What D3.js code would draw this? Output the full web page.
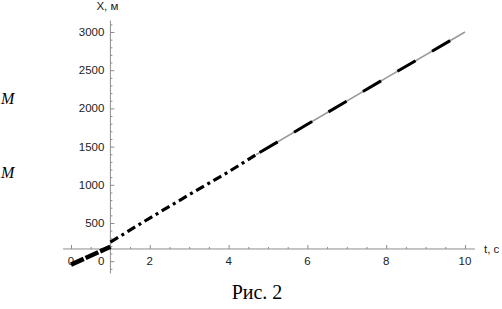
<!DOCTYPE html>
<html><head><meta charset="utf-8">
<script src="https://cdn.jsdelivr.net/npm/d3@7"></script>
<style>body{margin:0;background:#fff}svg{display:block}</style>
</head><body>
<script>
// Data
const tA = [0, 1];                 // thick black segment
const xA = [-45, 190];
const tB = [1, 2, 3, 4, 4.7];      // dash-dot segment
const xB = [250, 565, 870, 1170, 1395];
const tC = [4.7, 6, 8, 10];        // gray line with long black dashes
const xC = [1395, 1792, 2400, 3000];
const xTicks = [0, 2, 4, 6, 8, 10];
const yTicks = [0, 500, 1000, 1500, 2000, 2500, 3000];
const xMinor = d3.range(-0, 10.01, 0.5);
const yMinor = d3.range(-100, 3101, 100);

const W = 502, H = 309;
const svg = d3.select("body").append("svg").attr("width", W).attr("height", H);

const x = d3.scaleLinear().domain([0, 10]).range([71, 465]);
const y = d3.scaleLinear().domain([0, 3000]).range([261.2, 32]);
const axX0 = 1, axY0 = 160; // axes origin

const axisColor = "#8c8c8c";
const sans = "'Liberation Sans', Arial, sans-serif";

// x axis
const gx = svg.append("g").attr("transform", `translate(0,${y(axY0)})`);
gx.append("line").attr("x1", x(-0.2)).attr("x2", x(10.25)).attr("y1", 0).attr("y2", 0)
  .attr("stroke", axisColor).attr("stroke-width", 1);
gx.append("g").call(d3.axisTop(x).tickValues(xMinor.filter(v => !xTicks.includes(v))).tickSize(2).tickFormat(""))
  .call(g => g.select(".domain").remove())
  .selectAll("line").attr("stroke", axisColor);
gx.append("g").call(d3.axisTop(x).tickValues(xTicks).tickSize(4).tickFormat(""))
  .call(g => g.select(".domain").remove())
  .selectAll("line").attr("stroke", axisColor);
gx.selectAll("text.xl").data(xTicks).enter().append("text").attr("class", "xl")
  .attr("x", d => x(d)).attr("y", 16).attr("text-anchor", "middle")
  .attr("font-family", sans).attr("font-size", 11.5).attr("fill", "#222").text(d => d);

// y axis
const gy = svg.append("g").attr("transform", `translate(${x(axX0)},0)`);
gy.append("line").attr("x1", 0).attr("x2", 0).attr("y1", y(-160)).attr("y2", y(3150))
  .attr("stroke", axisColor).attr("stroke-width", 1);
gy.append("g").call(d3.axisRight(y).tickValues(yMinor.filter(v => !yTicks.includes(v))).tickSize(2).tickFormat(""))
  .call(g => g.select(".domain").remove())
  .selectAll("line").attr("stroke", axisColor);
gy.append("g").call(d3.axisRight(y).tickValues(yTicks).tickSize(4).tickFormat(""))
  .call(g => g.select(".domain").remove())
  .selectAll("line").attr("stroke", axisColor);
gy.selectAll("text.yl").data(yTicks).enter().append("text").attr("class", "yl")
  .attr("x", -6).attr("y", d => y(d) + 4).attr("text-anchor", "end")
  .attr("font-family", sans).attr("font-size", 11.5).attr("fill", "#222").text(d => d);

// axis titles
svg.append("text").attr("x", x(axX0) - 14).attr("y", 10).attr("font-family", sans)
  .attr("font-size", 11.5).attr("fill", "#222").text("X, м");
svg.append("text").attr("x", 484).attr("y", y(axY0) + 4).attr("font-family", sans)
  .attr("font-size", 11.5).attr("fill", "#222").text("t, c");

const line = d3.line().x(d => x(d[0])).y(d => y(d[1]));
const pts = (t, v) => t.map((d, i) => [d, v[i]]);

// gray underlying line
svg.append("path").datum(pts(tC, xC)).attr("d", line).attr("fill", "none")
  .attr("stroke", "#9a9a9a").attr("stroke-width", 1.6);
// black long dashes
svg.append("path").datum(pts(tC, xC)).attr("d", line).attr("fill", "none")
  .attr("stroke", "#000").attr("stroke-width", 3).attr("stroke-dasharray", "21,19")
  .attr("stroke-dashoffset", -4);
// dash-dot
svg.append("path").datum(pts(tB, xB)).attr("d", line).attr("fill", "none")
  .attr("stroke", "#000").attr("stroke-width", 3.2).attr("stroke-dasharray", "9,4,3,4");
// thick first segment
svg.append("path").datum(pts(tA, xA)).attr("d", line).attr("fill", "none")
  .attr("stroke", "#000").attr("stroke-width", 4.5).attr("stroke-dasharray", "14,2");

// document text at the left edge
const serif = "'Liberation Serif', 'Times New Roman', serif";
svg.append("text").attr("x", 1).attr("y", 104).attr("font-family", serif)
  .attr("font-style", "italic").attr("font-size", 16).text("M");
svg.append("text").attr("x", 1).attr("y", 178).attr("font-family", serif)
  .attr("font-style", "italic").attr("font-size", 16).text("M");

// caption
svg.append("text").attr("x", 257).attr("y", 299).attr("text-anchor", "middle")
  .attr("font-family", serif).attr("font-size", 20).text("Рис. 2");
</script>
</body></html>
